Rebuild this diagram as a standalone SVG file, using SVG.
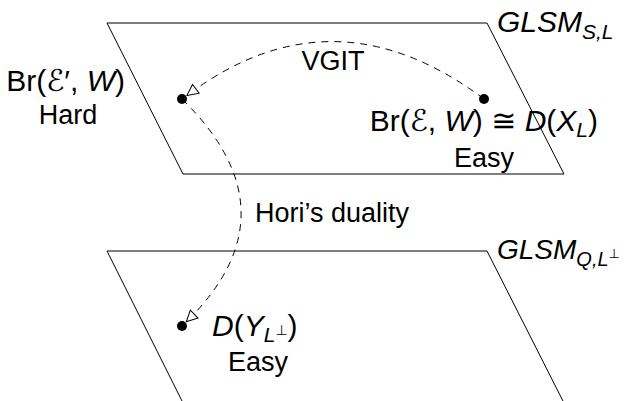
<svg xmlns="http://www.w3.org/2000/svg" width="624" height="401" viewBox="0 0 624 401">
<style>
.edge{fill:none;stroke:#000;stroke-width:1}
.t{font-family:"Liberation Sans","DejaVu Sans",sans-serif;font-size:27px;fill:#000}
.m{font-family:"Liberation Sans","DejaVu Sans",sans-serif;font-size:30px;fill:#000}
.i{font-style:italic}
.sub{font-size:21px}
.sup{font-size:14px;font-style:normal}
.dash{fill:none;stroke:#000;stroke-width:1;stroke-dasharray:7,6}
.dot{fill:#000}
</style>
<defs>
<marker id="oa" markerUnits="userSpaceOnUse" viewBox="-13 -7 14 14" refX="0" refY="0" markerWidth="14" markerHeight="14" orient="auto">
<path d="M0,0 L-11,-5.5 L-11,5.5 Z" fill="#fff" stroke="#000" stroke-width="1"/>
</marker>
</defs>
<g id="plane-top">
<polygon class="edge" points="107,23 487,23 564,174 183,174"/>
<text class="m i" x="497" y="32">GLSM<tspan class="sub" dy="7">S,L</tspan></text>
</g>
<g id="plane-bottom">
<polygon class="edge" points="107,251 487,251 564,403 183,403"/>
<text class="m i" x="497" y="259" style="font-size:28px">GLSM<tspan style="font-size:20px" dy="7">Q,L</tspan><tspan style="font-size:13px;font-style:normal" dy="-8">⊥</tspan></text>
</g>
<g id="node-hard">
<circle class="dot" cx="182" cy="99" r="5"/>
<text class="m" x="125" y="91" text-anchor="end">Br(ℰ′, <tspan class="i">W</tspan>)</text>
<text class="t" x="68" y="124" text-anchor="middle">Hard</text>
</g>
<g id="node-easy-top">
<circle class="dot" cx="484" cy="99" r="5"/>
<text class="m" x="598" y="131" text-anchor="end">Br(ℰ, <tspan class="i">W</tspan>) ≅ <tspan class="i">D</tspan>(<tspan class="i">X</tspan><tspan class="sub i" dy="6">L</tspan><tspan dy="-6">)</tspan></text>
<text class="t" x="484" y="167" text-anchor="middle">Easy</text>
</g>
<g id="node-easy-bottom">
<circle class="dot" cx="182" cy="326" r="5"/>
<text class="m" x="212" y="336"><tspan class="i">D</tspan>(<tspan class="i">Y</tspan><tspan class="sub i" dy="6">L</tspan><tspan class="sup" dy="-7">⊥</tspan><tspan dy="1">)</tspan></text>
<text class="t" x="258" y="371" text-anchor="middle">Easy</text>
</g>
<g id="connectors">
<path class="dash" d="M484,99 Q333,-14 187,95.4" marker-end="url(#oa)"/>
<text class="t" x="333" y="70" text-anchor="middle">VGIT</text>
<path class="dash" d="M182,99 Q298,212.5 186.3,321.8" marker-end="url(#oa)"/>
<text class="t" x="255" y="222">Hori’s duality</text>
</g>
</svg>
